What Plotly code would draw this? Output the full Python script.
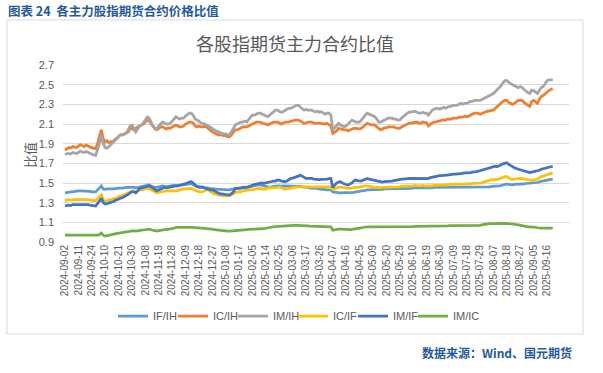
import pandas as pd
import plotly.graph_objects as go

# ---------------- data ----------------
HOLIDAYS = ["2024-09-16", "2024-09-17", "2024-10-01", "2024-10-02", "2024-10-03",
            "2024-10-04", "2024-10-07", "2025-01-01", "2025-01-28", "2025-01-29",
            "2025-01-30", "2025-01-31", "2025-02-03", "2025-02-04", "2025-04-04",
            "2025-05-01", "2025-05-02", "2025-05-05", "2025-06-02"]
_bd = pd.bdate_range("2024-09-02", "2025-09-19")
DATES = [d.strftime("%Y-%m-%d") for d in _bd if d.strftime("%Y-%m-%d") not in HOLIDAYS]

TICK_LABELS = ["2024-09-02", "2024-09-11", "2024-09-24", "2024-10-10", "2024-10-21",
               "2024-10-30", "2024-11-08", "2024-11-19", "2024-11-28", "2024-12-09",
               "2024-12-18", "2024-12-27", "2025-01-08", "2025-01-17", "2025-02-05",
               "2025-02-14", "2025-02-25", "2025-03-06", "2025-03-17", "2025-03-26",
               "2025-04-07", "2025-04-16", "2025-04-25", "2025-05-09", "2025-05-20",
               "2025-05-29", "2025-06-10", "2025-06-19", "2025-06-30", "2025-07-09",
               "2025-07-18", "2025-07-29", "2025-08-07", "2025-08-18", "2025-08-27",
               "2025-09-05", "2025-09-16"]

IF_IH = [1.40, 1.405, 1.41, 1.41, 1.41, 1.415, 1.42, 1.42, 1.42, 1.42,
         1.415, 1.42, 1.42, 1.415, 1.41, 1.41, 1.41, 1.43, 1.45, 1.47,
         1.44, 1.436, 1.44, 1.44, 1.435, 1.44, 1.44, 1.445, 1.445, 1.445,
         1.45, 1.45, 1.455, 1.455, 1.456, 1.46, 1.455, 1.45, 1.455, 1.455,
         1.46, 1.47, 1.475, 1.48, 1.48, 1.47, 1.46, 1.455, 1.455, 1.46,
         1.465, 1.47, 1.465, 1.46, 1.465, 1.47, 1.47, 1.475, 1.47, 1.475,
         1.48, 1.48, 1.48, 1.485, 1.49, 1.49, 1.49, 1.485, 1.47, 1.465,
         1.46, 1.455, 1.455, 1.45, 1.45, 1.445, 1.44, 1.44, 1.44, 1.436,
         1.436, 1.436, 1.435, 1.43, 1.43, 1.43, 1.43, 1.435, 1.44, 1.445,
         1.445, 1.445, 1.45, 1.45, 1.45, 1.455, 1.455, 1.46, 1.465, 1.47,
         1.475, 1.48, 1.48, 1.475, 1.47, 1.465, 1.46, 1.455, 1.46, 1.465,
         1.47, 1.47, 1.47, 1.465, 1.47, 1.47, 1.47, 1.47, 1.47, 1.47,
         1.465, 1.465, 1.465, 1.465, 1.46, 1.46, 1.46, 1.455, 1.45, 1.445,
         1.45, 1.445, 1.44, 1.44, 1.435, 1.435, 1.43, 1.43, 1.43, 1.43,
         1.41, 1.41, 1.405, 1.40, 1.40, 1.40, 1.40, 1.40, 1.40, 1.40,
         1.405, 1.405, 1.41, 1.41, 1.415, 1.42, 1.42, 1.425, 1.43, 1.43,
         1.435, 1.435, 1.436, 1.435, 1.43, 1.43, 1.435, 1.44, 1.44, 1.44,
         1.44, 1.44, 1.44, 1.44, 1.44, 1.44, 1.44, 1.445, 1.445, 1.445,
         1.445, 1.445, 1.45, 1.45, 1.45, 1.45, 1.45, 1.45, 1.45, 1.45,
         1.445, 1.45, 1.45, 1.455, 1.455, 1.455, 1.455, 1.455, 1.455, 1.455,
         1.455, 1.455, 1.46, 1.46, 1.46, 1.46, 1.46, 1.46, 1.46, 1.46,
         1.46, 1.46, 1.46, 1.46, 1.46, 1.46, 1.46, 1.46, 1.46, 1.46,
         1.46, 1.46, 1.46, 1.465, 1.465, 1.47, 1.47, 1.47, 1.475, 1.48,
         1.485, 1.49, 1.485, 1.48, 1.48, 1.485, 1.485, 1.49, 1.49, 1.49,
         1.49, 1.495, 1.497, 1.495, 1.50, 1.50, 1.50, 1.505, 1.513, 1.515,
         1.52, 1.525, 1.53, 1.535, 1.54, 1.54]

IC_IH = [1.835, 1.85, 1.86, 1.855, 1.87, 1.865, 1.86, 1.875, 1.89, 1.88,
         1.87, 1.886, 1.875, 1.87, 1.86, 1.853, 1.85, 1.90, 1.96, 2.04,
         1.95, 1.92, 1.93, 1.91, 1.92, 1.92, 1.94, 1.96, 1.98, 1.99,
         1.99, 2.00, 2.005, 2.02, 2.05, 2.06, 2.04, 2.06, 2.07, 2.08,
         2.09, 2.10, 2.12, 2.14, 2.13, 2.10, 2.07, 2.05, 2.04, 2.06,
         2.07, 2.07, 2.06, 2.05, 2.06, 2.056, 2.07, 2.08, 2.09, 2.08,
         2.07, 2.07, 2.08, 2.10, 2.11, 2.12, 2.12, 2.11, 2.08, 2.07,
         2.08, 2.07, 2.07, 2.075, 2.07, 2.05, 2.04, 2.02, 2.01, 2.00,
         1.99, 1.99, 1.99, 1.98, 1.985, 1.97, 1.97, 1.99, 2.02, 2.04,
         2.04, 2.05, 2.06, 2.07, 2.07, 2.07, 2.08, 2.09, 2.107, 2.11,
         2.12, 2.12, 2.12, 2.11, 2.107, 2.10, 2.09, 2.10, 2.11, 2.12,
         2.12, 2.12, 2.11, 2.10, 2.107, 2.12, 2.12, 2.12, 2.13, 2.13,
         2.14, 2.14, 2.14, 2.13, 2.12, 2.107, 2.11, 2.12, 2.12, 2.12,
         2.11, 2.107, 2.11, 2.11, 2.107, 2.10, 2.10, 2.107, 2.09, 2.08,
         2.005, 2.02, 2.03, 2.056, 2.05, 2.04, 2.04, 2.04, 2.03, 2.04,
         2.05, 2.056, 2.056, 2.05, 2.05, 2.056, 2.07, 2.09, 2.107, 2.10,
         2.09, 2.09, 2.09, 2.07, 2.05, 2.04, 2.05, 2.06, 2.06, 2.07,
         2.07, 2.07, 2.07, 2.06, 2.06, 2.056, 2.07, 2.08, 2.09, 2.10,
         2.11, 2.11, 2.113, 2.12, 2.12, 2.11, 2.11, 2.12, 2.113, 2.113,
         2.08, 2.10, 2.11, 2.12, 2.12, 2.13, 2.13, 2.14, 2.14, 2.14,
         2.15, 2.15, 2.15, 2.16, 2.16, 2.16, 2.17, 2.17, 2.17, 2.18,
         2.174, 2.18, 2.19, 2.20, 2.21, 2.21, 2.21, 2.20, 2.21, 2.22,
         2.225, 2.23, 2.23, 2.24, 2.24, 2.26, 2.28, 2.29, 2.31, 2.33,
         2.34, 2.34, 2.32, 2.31, 2.30, 2.31, 2.33, 2.34, 2.34, 2.34,
         2.32, 2.30, 2.29, 2.28, 2.33, 2.34, 2.32, 2.31, 2.35, 2.38,
         2.39, 2.41, 2.43, 2.44, 2.45, 2.46]

IM_IH = [1.79, 1.80, 1.80, 1.795, 1.81, 1.805, 1.80, 1.81, 1.825, 1.815,
         1.81, 1.82, 1.81, 1.80, 1.79, 1.785, 1.78, 1.83, 1.90, 1.99,
         1.90, 1.86, 1.853, 1.87, 1.89, 1.90, 1.92, 1.94, 1.97, 1.99,
         1.99, 2.00, 2.005, 2.04, 2.08, 2.09, 2.05, 2.02, 2.05, 2.08,
         2.09, 2.11, 2.14, 2.17, 2.16, 2.12, 2.08, 2.06, 2.05, 2.08,
         2.10, 2.12, 2.11, 2.10, 2.10, 2.107, 2.13, 2.15, 2.174, 2.16,
         2.15, 2.16, 2.16, 2.18, 2.20, 2.21, 2.21, 2.19, 2.15, 2.14,
         2.13, 2.11, 2.107, 2.10, 2.09, 2.08, 2.07, 2.056, 2.04, 2.03,
         2.02, 2.01, 2.005, 2.00, 2.00, 1.99, 1.99, 2.02, 2.06, 2.09,
         2.10, 2.11, 2.12, 2.12, 2.13, 2.12, 2.15, 2.17, 2.19, 2.19,
         2.20, 2.21, 2.21, 2.20, 2.19, 2.18, 2.174, 2.19, 2.21, 2.23,
         2.24, 2.24, 2.23, 2.22, 2.225, 2.24, 2.25, 2.26, 2.26, 2.27,
         2.28, 2.29, 2.29, 2.27, 2.25, 2.24, 2.25, 2.24, 2.24, 2.24,
         2.23, 2.225, 2.23, 2.22, 2.225, 2.21, 2.20, 2.21, 2.21, 2.19,
         2.04, 2.06, 2.09, 2.107, 2.09, 2.08, 2.07, 2.08, 2.10, 2.12,
         2.14, 2.13, 2.12, 2.12, 2.12, 2.14, 2.17, 2.19, 2.21, 2.20,
         2.19, 2.18, 2.174, 2.15, 2.12, 2.12, 2.13, 2.14, 2.15, 2.16,
         2.16, 2.16, 2.15, 2.15, 2.14, 2.14, 2.16, 2.18, 2.20, 2.21,
         2.22, 2.22, 2.225, 2.23, 2.22, 2.21, 2.21, 2.22, 2.21, 2.21,
         2.19, 2.22, 2.24, 2.25, 2.26, 2.26, 2.25, 2.26, 2.27, 2.26,
         2.27, 2.28, 2.28, 2.29, 2.29, 2.29, 2.30, 2.31, 2.30, 2.31,
         2.31, 2.32, 2.33, 2.33, 2.34, 2.34, 2.34, 2.34, 2.35, 2.36,
         2.377, 2.38, 2.39, 2.40, 2.41, 2.43, 2.45, 2.46, 2.49, 2.52,
         2.54, 2.54, 2.52, 2.51, 2.50, 2.49, 2.48, 2.47, 2.48, 2.47,
         2.45, 2.43, 2.42, 2.41, 2.445, 2.44, 2.42, 2.41, 2.44, 2.47,
         2.48, 2.51, 2.54, 2.55, 2.55, 2.55]

IC_IF = [1.32, 1.325, 1.33, 1.325, 1.33, 1.33, 1.33, 1.335, 1.334, 1.33,
         1.33, 1.335, 1.33, 1.325, 1.32, 1.32, 1.32, 1.34, 1.36, 1.38,
         1.33, 1.31, 1.32, 1.325, 1.33, 1.335, 1.34, 1.35, 1.36, 1.365,
         1.37, 1.38, 1.39, 1.40, 1.41, 1.415, 1.42, 1.41, 1.42, 1.43,
         1.43, 1.435, 1.44, 1.445, 1.44, 1.43, 1.42, 1.41, 1.40, 1.405,
         1.41, 1.415, 1.42, 1.42, 1.42, 1.42, 1.42, 1.42, 1.425, 1.42,
         1.43, 1.436, 1.44, 1.44, 1.44, 1.445, 1.445, 1.436, 1.43, 1.42,
         1.41, 1.41, 1.41, 1.42, 1.43, 1.43, 1.41, 1.40, 1.39, 1.385,
         1.38, 1.38, 1.375, 1.37, 1.37, 1.37, 1.37, 1.38, 1.39, 1.40,
         1.41, 1.41, 1.41, 1.42, 1.425, 1.43, 1.43, 1.43, 1.43, 1.435,
         1.44, 1.445, 1.445, 1.44, 1.436, 1.44, 1.45, 1.455, 1.45, 1.45,
         1.45, 1.455, 1.46, 1.45, 1.44, 1.436, 1.44, 1.445, 1.45, 1.455,
         1.46, 1.46, 1.46, 1.46, 1.46, 1.46, 1.46, 1.455, 1.455, 1.455,
         1.46, 1.46, 1.46, 1.46, 1.46, 1.46, 1.46, 1.46, 1.46, 1.46,
         1.436, 1.44, 1.45, 1.455, 1.46, 1.455, 1.45, 1.445, 1.445, 1.445,
         1.45, 1.45, 1.455, 1.455, 1.46, 1.46, 1.465, 1.47, 1.47, 1.465,
         1.46, 1.455, 1.455, 1.455, 1.45, 1.45, 1.455, 1.455, 1.46, 1.46,
         1.46, 1.46, 1.46, 1.46, 1.46, 1.46, 1.465, 1.465, 1.47, 1.47,
         1.47, 1.47, 1.47, 1.475, 1.47, 1.47, 1.47, 1.475, 1.47, 1.47,
         1.465, 1.47, 1.47, 1.475, 1.475, 1.475, 1.475, 1.475, 1.48, 1.48,
         1.48, 1.48, 1.485, 1.485, 1.49, 1.49, 1.49, 1.49, 1.49, 1.49,
         1.49, 1.49, 1.49, 1.495, 1.495, 1.495, 1.495, 1.497, 1.50, 1.51,
         1.52, 1.52, 1.53, 1.535, 1.535, 1.537, 1.537, 1.54, 1.55, 1.56,
         1.564, 1.564, 1.55, 1.54, 1.537, 1.54, 1.545, 1.547, 1.547, 1.545,
         1.54, 1.535, 1.53, 1.53, 1.53, 1.53, 1.535, 1.54, 1.557, 1.565,
         1.57, 1.575, 1.58, 1.59, 1.60, 1.60]

IM_IF = [1.266, 1.27, 1.275, 1.27, 1.28, 1.28, 1.28, 1.285, 1.286, 1.28,
         1.28, 1.285, 1.28, 1.275, 1.27, 1.266, 1.265, 1.29, 1.32, 1.344,
         1.30, 1.286, 1.29, 1.295, 1.30, 1.31, 1.32, 1.33, 1.34, 1.345,
         1.35, 1.36, 1.37, 1.385, 1.40, 1.41, 1.41, 1.40, 1.42, 1.445,
         1.45, 1.455, 1.46, 1.47, 1.47, 1.46, 1.445, 1.43, 1.42, 1.43,
         1.44, 1.45, 1.455, 1.45, 1.455, 1.455, 1.46, 1.465, 1.47, 1.47,
         1.475, 1.48, 1.49, 1.495, 1.50, 1.51, 1.513, 1.50, 1.48, 1.465,
         1.455, 1.46, 1.46, 1.45, 1.44, 1.436, 1.43, 1.43, 1.42, 1.41,
         1.40, 1.39, 1.39, 1.385, 1.385, 1.38, 1.38, 1.39, 1.41, 1.445,
         1.445, 1.445, 1.45, 1.455, 1.455, 1.46, 1.46, 1.47, 1.48, 1.485,
         1.49, 1.495, 1.50, 1.50, 1.497, 1.50, 1.505, 1.51, 1.515, 1.52,
         1.52, 1.53, 1.53, 1.52, 1.515, 1.513, 1.52, 1.535, 1.547, 1.55,
         1.555, 1.56, 1.57, 1.58, 1.57, 1.555, 1.547, 1.547, 1.55, 1.547,
         1.54, 1.537, 1.537, 1.535, 1.537, 1.537, 1.537, 1.54, 1.545, 1.547,
         1.455, 1.48, 1.50, 1.51, 1.513, 1.50, 1.49, 1.485, 1.48, 1.49,
         1.50, 1.52, 1.53, 1.525, 1.52, 1.52, 1.53, 1.54, 1.547, 1.54,
         1.535, 1.53, 1.53, 1.525, 1.515, 1.51, 1.51, 1.515, 1.515, 1.52,
         1.52, 1.52, 1.525, 1.53, 1.535, 1.537, 1.54, 1.54, 1.545, 1.545,
         1.547, 1.547, 1.547, 1.55, 1.55, 1.547, 1.545, 1.547, 1.55, 1.55,
         1.545, 1.555, 1.56, 1.565, 1.57, 1.575, 1.575, 1.575, 1.58, 1.58,
         1.58, 1.585, 1.585, 1.59, 1.59, 1.59, 1.595, 1.595, 1.60, 1.60,
         1.60, 1.605, 1.605, 1.61, 1.61, 1.615, 1.62, 1.625, 1.63, 1.635,
         1.645, 1.65, 1.655, 1.66, 1.665, 1.67, 1.666, 1.673, 1.685, 1.695,
         1.70, 1.706, 1.69, 1.675, 1.666, 1.655, 1.645, 1.64, 1.635, 1.63,
         1.625, 1.615, 1.61, 1.605, 1.61, 1.615, 1.615, 1.62, 1.63, 1.64,
         1.645, 1.65, 1.66, 1.665, 1.666, 1.67]

IM_IC = [0.97, 0.97, 0.968, 0.97, 0.97, 0.97, 0.968, 0.97, 0.97, 0.97,
         0.97, 0.97, 0.97, 0.968, 0.966, 0.965, 0.965, 0.97, 0.975, 0.99,
         0.97, 0.96, 0.965, 0.97, 0.975, 0.978, 0.98, 0.985, 0.99, 0.992,
         0.995, 0.998, 1.0, 1.005, 1.01, 1.01, 1.015, 1.01, 1.015, 1.02,
         1.02, 1.022, 1.025, 1.03, 1.03, 1.025, 1.02, 1.015, 1.01, 1.015,
         1.02, 1.025, 1.025, 1.025, 1.028, 1.03, 1.035, 1.04, 1.05, 1.05,
         1.05, 1.052, 1.055, 1.055, 1.055, 1.05, 1.05, 1.05, 1.045, 1.045,
         1.04, 1.04, 1.04, 1.038, 1.035, 1.035, 1.03, 1.03, 1.025, 1.022,
         1.02, 1.02, 1.015, 1.012, 1.01, 1.01, 1.01, 1.012, 1.015, 1.02,
         1.02, 1.022, 1.022, 1.025, 1.025, 1.028, 1.03, 1.03, 1.03, 1.03,
         1.03, 1.03, 1.03, 1.032, 1.035, 1.04, 1.045, 1.05, 1.052, 1.055,
         1.056, 1.058, 1.06, 1.062, 1.062, 1.065, 1.068, 1.07, 1.07, 1.07,
         1.07, 1.07, 1.07, 1.068, 1.066, 1.065, 1.065, 1.065, 1.062, 1.062,
         1.062, 1.062, 1.06, 1.058, 1.058, 1.056, 1.055, 1.055, 1.055, 1.055,
         1.02, 1.025, 1.028, 1.03, 1.03, 1.028, 1.026, 1.025, 1.025, 1.026,
         1.028, 1.03, 1.03, 1.035, 1.04, 1.045, 1.05, 1.052, 1.055, 1.055,
         1.055, 1.055, 1.055, 1.052, 1.05, 1.05, 1.05, 1.052, 1.052, 1.055,
         1.055, 1.055, 1.055, 1.055, 1.055, 1.055, 1.055, 1.055, 1.055, 1.055,
         1.055, 1.055, 1.056, 1.058, 1.058, 1.058, 1.058, 1.06, 1.06, 1.06,
         1.06, 1.06, 1.062, 1.062, 1.062, 1.062, 1.064, 1.065, 1.065, 1.065,
         1.065, 1.066, 1.066, 1.066, 1.068, 1.068, 1.068, 1.07, 1.07, 1.07,
         1.07, 1.07, 1.07, 1.07, 1.07, 1.07, 1.07, 1.07, 1.075, 1.08,
         1.085, 1.085, 1.087, 1.088, 1.088, 1.09, 1.09, 1.09, 1.09, 1.09,
         1.09, 1.09, 1.088, 1.087, 1.085, 1.08, 1.077, 1.075, 1.07, 1.065,
         1.062, 1.058, 1.055, 1.055, 1.055, 1.055, 1.05, 1.045, 1.04, 1.04,
         1.04, 1.04, 1.04, 1.04, 1.04, 1.04]

SERIES = [("IF/IH", IF_IH, "#5B9BD5"), ("IC/IH", IC_IH, "#ED7D31"),
          ("IM/IH", IM_IH, "#A5A5A5"), ("IC/IF", IC_IF, "#FFC000"),
          ("IM/IF", IM_IF, "#4472C4"), ("IM/IC", IM_IC, "#70AD47")]

# ---------------- figure ----------------
FONT = "Liberation Sans, Arial, Noto Sans CJK SC, sans-serif"
CJK = "Noto Sans CJK SC, Microsoft YaHei, sans-serif"
GRAY = "#595959"
BLUE = "#1F5A9E"

fig = go.Figure()
for name, vals, color in SERIES:
    n = min(len(vals), len(DATES))
    fig.add_trace(go.Scatter(x=DATES[:n], y=vals[:n], name=name, mode="lines",
                             line=dict(color=color, width=2.75)))
# empty spacer entry so the last legend label is not clipped
fig.add_trace(go.Scatter(x=[DATES[0]], y=[None], name=" ", mode="lines",
                         line=dict(width=0, color="rgba(0,0,0,0)"), hoverinfo="skip"))

W, H = 603, 373
L, T = 63, 65
R = W - 569
B = H - 242
pw, ph = W - L - R, H - T - B


def px(x):
    return (x - L) / pw


def py(y):
    return (H - B - y) / ph


fig.update_layout(
    width=W, height=H,
    margin=dict(l=L, r=R, t=T, b=B),
    paper_bgcolor="white", plot_bgcolor="white",
    font=dict(family=FONT, color=GRAY),
    showlegend=True,
    legend=dict(orientation="h", x=px(113), xanchor="left", y=py(316), yanchor="middle",
                font=dict(size=11, color=GRAY, family=FONT),
                entrywidth=15, entrywidthmode="pixels",
                bgcolor="rgba(0,0,0,0)"),
    xaxis=dict(type="category", categoryorder="array", categoryarray=DATES,
               range=[-1.05, 263.5], tickmode="array", tickvals=TICK_LABELS,
               ticktext=TICK_LABELS, tickangle=-90,
               tickfont=dict(size=10, color=GRAY, family=FONT),
               showgrid=False, showline=False, zeroline=False, ticks=""),
    yaxis=dict(range=[0.9, 2.7], tickmode="linear", tick0=0.9, dtick=0.2,
               tickformat=".1f", showgrid=True, gridcolor="#D9D9D9", gridwidth=1,
               zeroline=False, showline=False, ticks="",
               tickfont=dict(size=11, color=GRAY, family=FONT),
               ticklabelstandoff=8),
)

# frame border
fig.add_shape(type="rect", xref="paper", yref="paper",
              x0=px(7), x1=px(583), y0=py(334), y1=py(20),
              line=dict(color="#D9D9D9", width=1), fillcolor="rgba(0,0,0,0)", layer="below")

# header title
fig.add_annotation(text="<b>图表 24  各主力股指期货合约价格比值</b>", xref="paper", yref="paper",
                   x=px(6), y=py(11), xanchor="left", yanchor="middle", showarrow=False,
                   font=dict(size=12.5, color=BLUE, family=CJK))
# chart title
fig.add_annotation(text="各股指期货主力合约比值", xref="paper", yref="paper",
                   x=px(295), y=py(43), xanchor="center", yanchor="middle", showarrow=False,
                   font=dict(size=18, color=GRAY, family=CJK))
# y axis title
fig.add_annotation(text="比值", xref="paper", yref="paper", textangle=-90,
                   x=px(29), y=py(155), xanchor="center", yanchor="middle", showarrow=False,
                   font=dict(size=13, color=GRAY, family=CJK))
# source
fig.add_annotation(text="<b>数据来源：Wind、国元期货</b>", xref="paper", yref="paper",
                   x=px(574), y=py(352), xanchor="right", yanchor="middle", showarrow=False,
                   font=dict(size=12, color=BLUE, family=CJK))

fig.write_html("out.html", config={"displayModeBar": False},
               post_script="document.body.style.margin='0px';")
